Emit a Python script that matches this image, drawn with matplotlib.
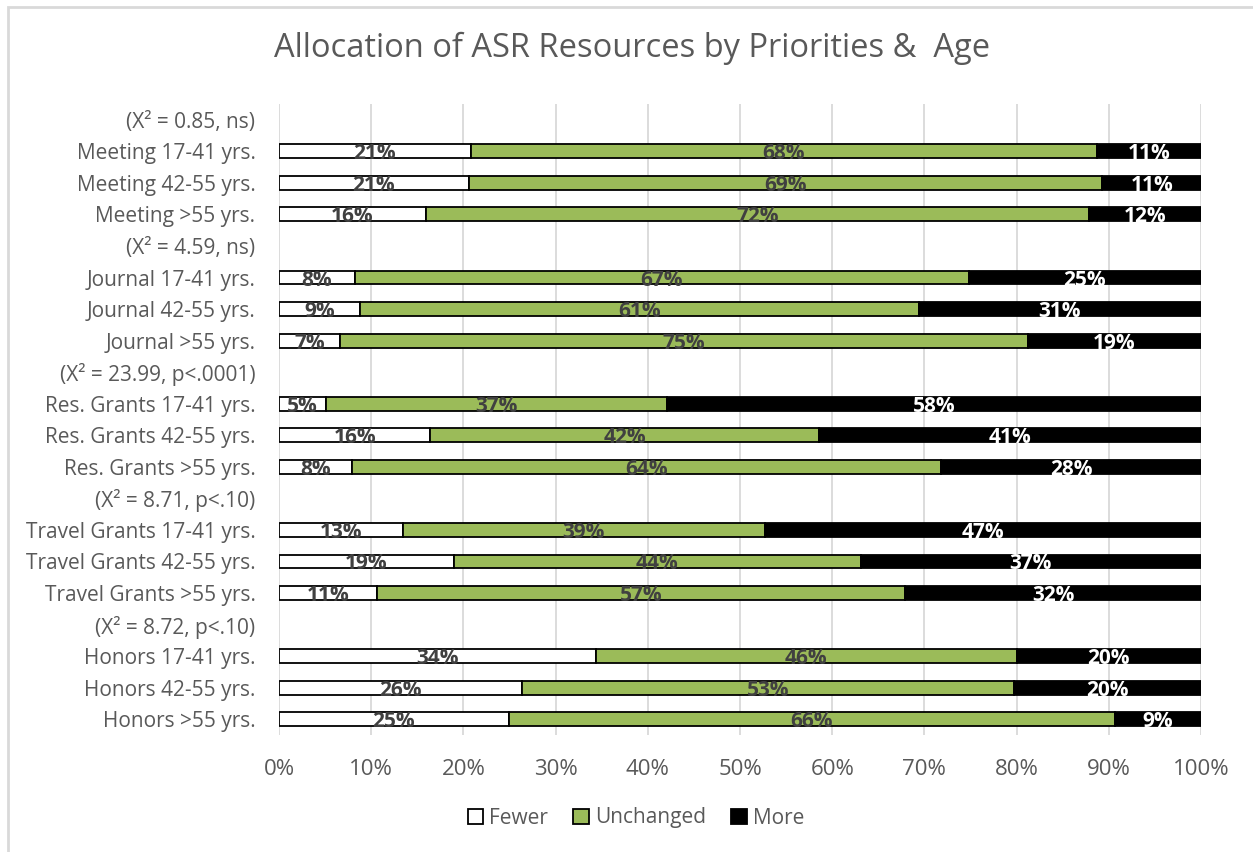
import matplotlib
matplotlib.use("Agg")
import matplotlib.pyplot as plt
import numpy as np

# ---- data ----
row_labels = [
    "(X\u00b2 = 0.85, ns)",
    "Meeting 17-41 yrs.", "Meeting 42-55 yrs.", "Meeting >55 yrs.",
    "(X\u00b2 = 4.59, ns)",
    "Journal 17-41 yrs.", "Journal 42-55 yrs.", "Journal >55 yrs.",
    "(X\u00b2 = 23.99, p<.0001)",
    "Res. Grants 17-41 yrs.", "Res. Grants 42-55 yrs.", "Res. Grants >55 yrs.",
    "(X\u00b2 = 8.71, p<.10)",
    "Travel Grants 17-41 yrs.", "Travel Grants 42-55 yrs.", "Travel Grants >55 yrs.",
    "(X\u00b2 = 8.72, p<.10)",
    "Honors 17-41 yrs.", "Honors 42-55 yrs.", "Honors >55 yrs.",
]
# None for header rows (no bar)
fewer = [None, 20.8, 20.6, 15.9, None, 8.2, 8.8, 6.6, None, 5.1, 16.4, 7.9,
         None, 13.4, 19.0, 10.6, None, 34.4, 26.4, 24.9]
unchanged = [None, 67.9, 68.7, 72.0, None, 66.6, 60.6, 74.6, None, 37.0, 42.2, 63.9,
             None, 39.3, 44.1, 57.3, None, 45.6, 53.3, 65.8]
more = [None, 11.3, 10.7, 12.1, None, 25.2, 30.6, 18.8, None, 57.9, 41.4, 28.2,
        None, 47.3, 36.9, 32.1, None, 20.0, 20.3, 9.3]
series_names = ["Fewer", "Unchanged", "More"]
xticks = [0, 10, 20, 30, 40, 50, 60, 70, 80, 90, 100]
title = "Allocation of ASR Resources by Priorities &  Age"

# ---- style ----
FONT = "Open Sans"
GRAY = "#595959"
colors = ["#FFFFFF", "#9BBB59", "#000000"]
label_colors = ["#404040", "#404040", "#FFFFFF"]

fig = plt.figure(figsize=(12.53, 8.52), dpi=100)
ax = fig.add_axes([279/1253, 1-735/852, (1201-279)/1253, (735-104)/852])

n = len(row_labels)
y = np.arange(n)
bar_h = 0.44

series = [fewer, unchanged, more]
for i in range(n):
    if fewer[i] is None:
        continue
    left = 0.0
    for s, vals in enumerate(series):
        v = vals[i]
        ax.barh(y[i], v, left=left, height=bar_h, color=colors[s],
                edgecolor="black", linewidth=1.3, zorder=3)
        ax.text(left + v/2, y[i] + 0.08, f"{int(round(v))}%", ha="center", va="center",
                fontsize=15, fontweight="bold", color=label_colors[s],
                family=FONT, zorder=4)
        left += v

ax.set_xlim(0, 100)
ax.set_ylim(n - 0.5, -0.5)
ax.set_yticks(y)
ax.set_yticklabels(row_labels, family=FONT, fontsize=15, color=GRAY)
ax.set_xticks(xticks)
ax.set_xticklabels([f"{t}%" for t in xticks], family=FONT, fontsize=16, color=GRAY)
ax.tick_params(axis="both", length=0)
ax.tick_params(axis="y", pad=17)
ax.tick_params(axis="x", pad=17)
for sp in ax.spines.values():
    sp.set_visible(False)
ax.grid(axis="x", color="#D9D9D9", linewidth=1.3, zorder=0)
ax.set_axisbelow(True)

fig.text(632/1253, 1-48/852, title, ha="center", va="center",
         family=FONT, fontsize=23.5, color=GRAY)

# legend
from matplotlib.patches import Patch
handles = [Patch(facecolor=colors[k], edgecolor="black", linewidth=1.3) for k in range(3)]
leg = fig.legend(handles, series_names, loc="center", bbox_to_anchor=(636/1253, 1-818/852),
                 ncol=3, frameon=False, prop={"family": FONT, "size": 15},
                 handlelength=0.75, handleheight=0.75, handletextpad=0.3, columnspacing=1.2)
for t in leg.get_texts():
    t.set_color(GRAY)

# outer frame
fig.add_artist(plt.Rectangle((7.5/1253, -0.05), 1.1, 1 - 6.5/852 + 0.05, transform=fig.transFigure,
                             fill=False, edgecolor="#D9D9D9", linewidth=2))

fig.savefig("out.png", dpi=100)
